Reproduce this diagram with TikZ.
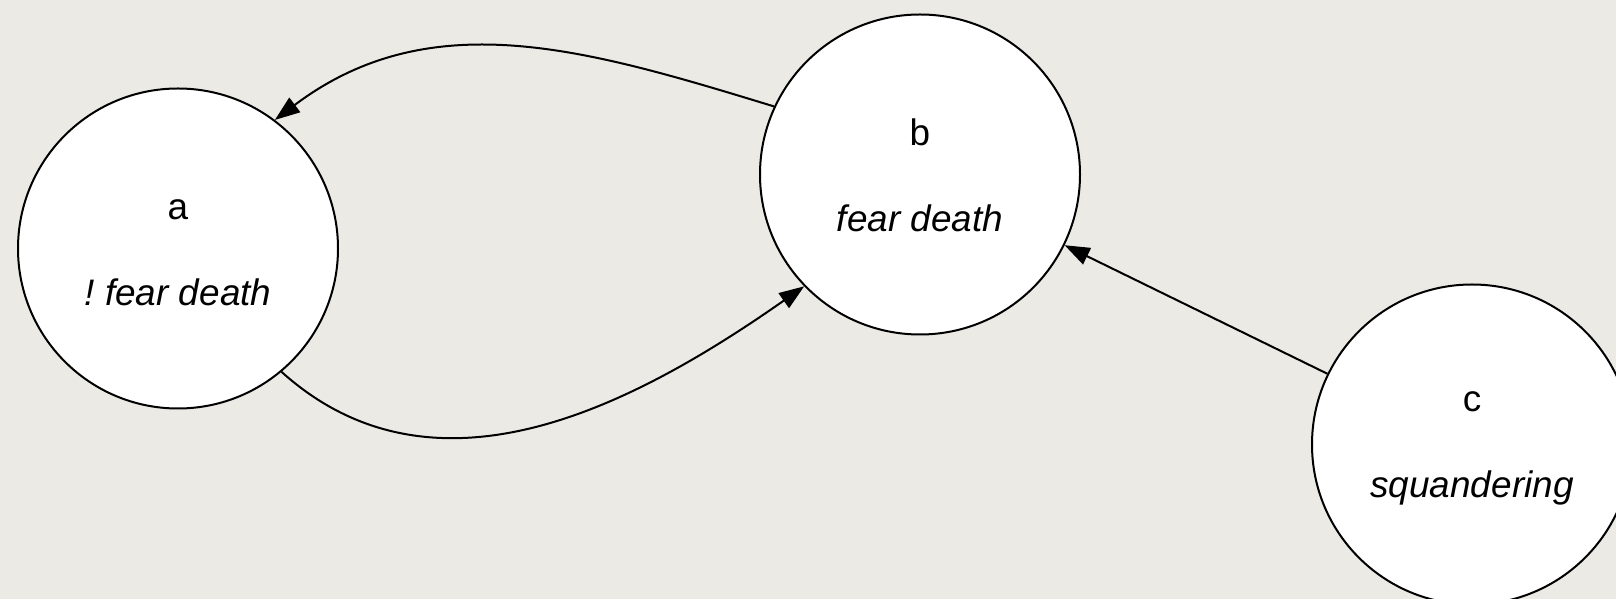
\documentclass[tikz,border=0pt]{standalone}
\usepackage{fontspec}
\setmainfont{Liberation Sans}
\usepackage{xcolor}
\usetikzlibrary{arrows.meta,positioning,calc}

\definecolor{paper}{RGB}{236,234,229}
\newcommand{\statetext}[2]{\rule{0pt}{16pt}#1\\[24pt]\textit{#2}}
\frenchspacing

\begin{document}
\begin{tikzpicture}[
    st/.style={circle, draw=black, fill=white, line width=0.04cm, minimum size=6.4cm, inner sep=0pt, align=center, font=\fontsize{21}{25}\selectfont},
    arr/.style={-{Triangle[length=0.5cm,width=0.36cm]}, line width=0.04cm, draw=black}
]
    % paper background
    \fill [paper] (0,0) rectangle (32.32,11.98);
    \useasboundingbox (0,0) rectangle (32.32,11.98);

    \node [st] (a) at (3.56,7.01) {\statetext{a}{! fear death}};
    \node [st] (b) at (18.40,8.49) {\statetext{b}{fear death}};
    \node [st] (c) at (29.44,3.09) {\statetext{c}{squandering}};

    \draw [arr] (b.155) to[out=163, in=37, looseness=1.0] (a.53);
    \draw [arr] (a.310) to[out=-42, in=215, looseness=1.0] (b.224);
    \draw [arr] (c) -- (b);
\end{tikzpicture}
\end{document}
